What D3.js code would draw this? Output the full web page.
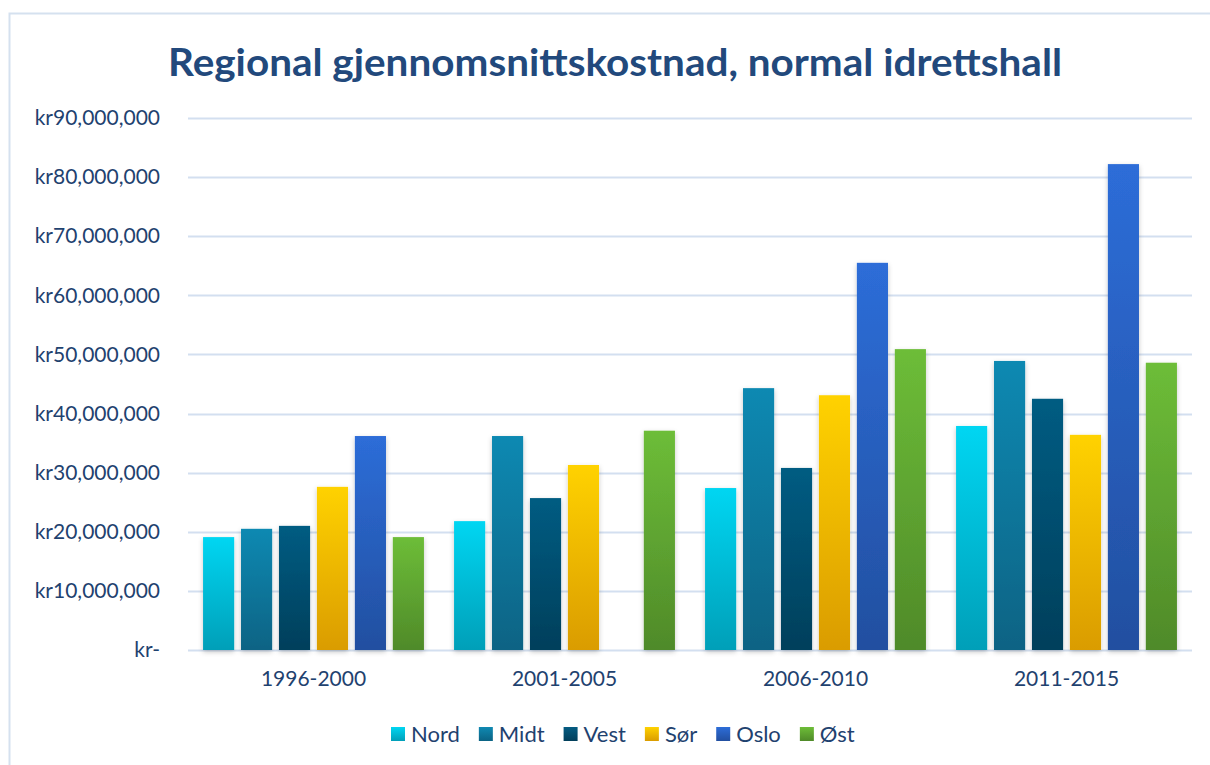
<!DOCTYPE html>
<html>
<head>
<meta charset="utf-8">
<script src="https://cdn.jsdelivr.net/npm/d3@7"></script>
<style>
  body { margin: 0; background: #fff; }
  svg { display: block; font-family: Lato, "Open Sans", sans-serif; }
</style>
</head>
<body>
<div id="chartDiv"></div>
<script>
// data
var periods = ["1996-2000", "2001-2005", "2006-2010", "2011-2015"];
var regions = ["Nord", "Midt", "Vest", "Sør", "Oslo", "Øst"];
var nord = [19100000, 21800000, 27400000, 37900000];
var midt = [20500000, 36200000, 44300000, 48900000];
var vest = [21000000, 25700000, 30800000, 42500000];
var sor  = [27600000, 31300000, 43100000, 36400000];
var oslo = [36200000, 0, 65500000, 82200000];
var ost  = [19100000, 37100000, 50900000, 48600000];
var tickValues = [0, 10000000, 20000000, 30000000, 40000000, 50000000, 60000000, 70000000, 80000000, 90000000];

var seriesValues = [nord, midt, vest, sor, oslo, ost];
var topColors = ["#00d6f2", "#1089b2", "#055c82", "#ffd200", "#2d6dd8", "#6dbd38"];
var bottomColors = ["#029fb8", "#0b6384", "#023f5b", "#da9c00", "#224fa0", "#4f8a29"];

var width = 1210, height = 765;
var margin = { left: 188, right: 18, top: 118, bottom: 115 };
var textColor = "#1f426f";

var svg = d3.select("#chartDiv").append("svg")
    .attr("width", width)
    .attr("height", height);

var defs = svg.append("defs");
regions.forEach(function(r, i) {
    var g = defs.append("linearGradient")
        .attr("id", "grad" + i)
        .attr("x1", 0).attr("y1", 0).attr("x2", 0).attr("y2", 1);
    g.append("stop").attr("offset", "0%").attr("stop-color", topColors[i]);
    g.append("stop").attr("offset", "100%").attr("stop-color", bottomColors[i]);
});
var shadow = defs.append("filter").attr("id", "shadow")
    .attr("x", "-30%").attr("y", "-5%").attr("width", "160%").attr("height", "115%");
shadow.append("feDropShadow")
    .attr("dx", 0).attr("dy", 2).attr("stdDeviation", 2.5)
    .attr("flood-color", "#000").attr("flood-opacity", 0.22);

// frame
svg.append("path")
    .attr("d", "M9.5," + height + " V13.5 H" + width)
    .attr("fill", "none")
    .attr("stroke", "#d5e1ef")
    .attr("stroke-width", 2);

// title
svg.append("text")
    .attr("x", 615)
    .attr("y", 76)
    .attr("text-anchor", "middle")
    .attr("font-size", 38)
    .attr("font-weight", "bold")
    .attr("fill", "#22497c")
    .attr("textLength", 894)
    .attr("lengthAdjust", "spacingAndGlyphs")
    .text("Regional gjennomsnittskostnad, normal idrettshall");

var x0 = d3.scaleBand()
    .domain(periods)
    .range([margin.left, width - margin.right])
    .paddingInner(0.12)
    .paddingOuter(0.06);

var x1 = d3.scaleBand()
    .domain(regions)
    .range([0, x0.bandwidth()])
    .paddingInner(0.18);

var y = d3.scaleLinear()
    .domain([0, 90000000])
    .range([height - margin.bottom, margin.top]);

// gridlines
svg.append("g").selectAll("line")
    .data(tickValues)
    .enter().append("line")
    .attr("x1", margin.left)
    .attr("x2", width - margin.right)
    .attr("y1", function(d) { return Math.round(y(d)) + 0.5; })
    .attr("y2", function(d) { return Math.round(y(d)) + 0.5; })
    .attr("stroke", "#d3dff0")
    .attr("stroke-width", 2);

// y axis labels
var fmt = d3.format(",");
var yAxis = d3.axisLeft(y)
    .tickValues(tickValues)
    .tickSize(0)
    .tickPadding(0)
    .tickFormat(function(d) { return d === 0 ? "kr-" : "kr" + fmt(d); });
var yg = svg.append("g")
    .attr("transform", "translate(160,0)")
    .call(yAxis);
yg.select(".domain").remove();
yg.selectAll("text")
    .attr("font-size", 21)
    .attr("fill", textColor)
    .attr("font-family", "Lato, 'Open Sans', sans-serif");

// bars
var groups = svg.append("g").selectAll("g")
    .data(periods)
    .enter().append("g")
    .attr("transform", function(d) { return "translate(" + x0(d) + ",0)"; });

groups.selectAll("rect")
    .data(function(p, pi) {
        return regions.map(function(r, ri) {
            return { region: r, idx: ri, value: seriesValues[ri][pi] };
        }).filter(function(d) { return d.value > 0; });
    })
    .enter().append("rect")
    .attr("x", function(d) { return x1(d.region); })
    .attr("y", function(d) { return y(d.value); })
    .attr("width", x1.bandwidth())
    .attr("height", function(d) { return y(0) - y(d.value); })
    .attr("fill", function(d) { return "url(#grad" + d.idx + ")"; })
    .attr("filter", "url(#shadow)")
    .append("title")
    .text(function(d) { return d.region + ": kr" + fmt(d.value); });

// x axis labels
var xAxis = d3.axisBottom(x0).tickSize(0).tickPadding(0);
var xg = svg.append("g")
    .attr("transform", "translate(0," + (y(0) + 21) + ")")
    .call(xAxis);
xg.select(".domain").remove();
xg.selectAll("text")
    .attr("font-size", 21)
    .attr("fill", textColor)
    .attr("font-family", "Lato, 'Open Sans', sans-serif");

// legend
var legend = svg.append("g");
var lx = 391;
regions.forEach(function(r, i) {
    var item = legend.append("g").attr("transform", "translate(" + lx + ",727)");
    item.append("rect")
        .attr("width", 14).attr("height", 14)
        .attr("fill", "url(#grad" + i + ")");
    var t = item.append("text")
        .attr("x", 20)
        .attr("y", 15)
        .attr("font-size", 22)
        .attr("fill", textColor)
        .text(r);
    lx += 20 + t.node().getComputedTextLength() + 19;
});
</script>
</body>
</html>
